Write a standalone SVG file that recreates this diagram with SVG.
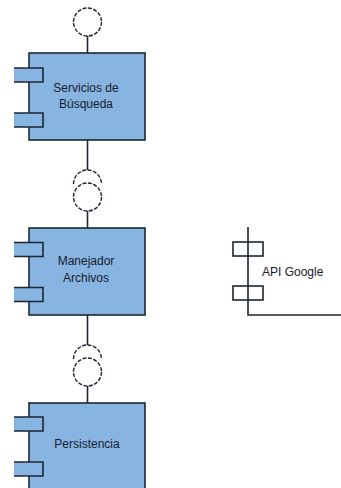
<svg xmlns="http://www.w3.org/2000/svg" width="341" height="488" viewBox="0 0 341 488">
<style>
.box{fill:#88b4e2;stroke:#1b2633;stroke-width:1.6}
.pfill{fill:#88b4e2;stroke:none}
.pedge{fill:none;stroke:#1b2633;stroke-width:1.6}
.wport{fill:none;stroke:#1b2633;stroke-width:1.6}
.ln{fill:none;stroke:#1b2633;stroke-width:1.6}
.iface{fill:none;stroke:#1b2633;stroke-width:1.4;stroke-dasharray:4 1.5}
.lbl{font-family:"Liberation Sans",Arial,sans-serif;font-size:12px;fill:#16202c;text-anchor:middle}
.lbl2{font-family:"Liberation Sans",Arial,sans-serif;font-size:12px;fill:#16202c;text-anchor:start}
</style>
<defs>
<g id="port">
<rect class="pfill" x="14" y="0" width="29" height="14"/>
<path class="pedge" d="M14,0 H43 V14 H14"/>
</g>
</defs>
<rect width="341" height="488" fill="#ffffff"/>
<g id="connectors">
<line class="ln" x1="87.5" y1="36" x2="87.5" y2="53"/>
<line class="ln" x1="87.5" y1="140" x2="87.5" y2="170"/>
<line class="ln" x1="87.5" y1="211" x2="87.5" y2="228"/>
<line class="ln" x1="87.5" y1="315" x2="87.5" y2="345"/>
<line class="ln" x1="87.5" y1="386" x2="87.5" y2="403"/>
<circle class="iface" cx="87.5" cy="22" r="14"/>
<path class="iface" d="M73.5,184 A14,14 0 0 1 101.5,184"/>
<circle class="iface" cx="87.5" cy="197" r="14"/>
<path class="iface" d="M73.5,359 A14,14 0 0 1 101.5,359"/>
<circle class="iface" cx="87.5" cy="372" r="14"/>
</g>
<g id="servicios">
<rect class="box" x="29" y="53" width="116" height="87"/>
<use href="#port" y="68"/>
<use href="#port" y="113"/>
<text class="lbl" x="86" y="92">Servicios de</text>
<text class="lbl" x="86" y="108">Búsqueda</text>
</g>
<g id="manejador">
<rect class="box" x="29" y="228" width="116" height="87"/>
<use href="#port" y="242.5"/>
<use href="#port" y="287.5"/>
<text class="lbl" x="86" y="265">Manejador</text>
<text class="lbl" x="86" y="282">Archivos</text>
</g>
<g id="persistencia">
<rect class="box" x="29" y="403" width="116" height="90"/>
<use href="#port" y="417"/>
<use href="#port" y="462"/>
<text class="lbl" x="87" y="448">Persistencia</text>
</g>
<g id="api">
<path class="ln" d="M248,227 V315 H341"/>
<rect class="wport" x="233" y="242" width="30" height="14"/>
<rect class="wport" x="233" y="286" width="30" height="14"/>
<text class="lbl2" x="262" y="276">API Google</text>
</g>
</svg>
